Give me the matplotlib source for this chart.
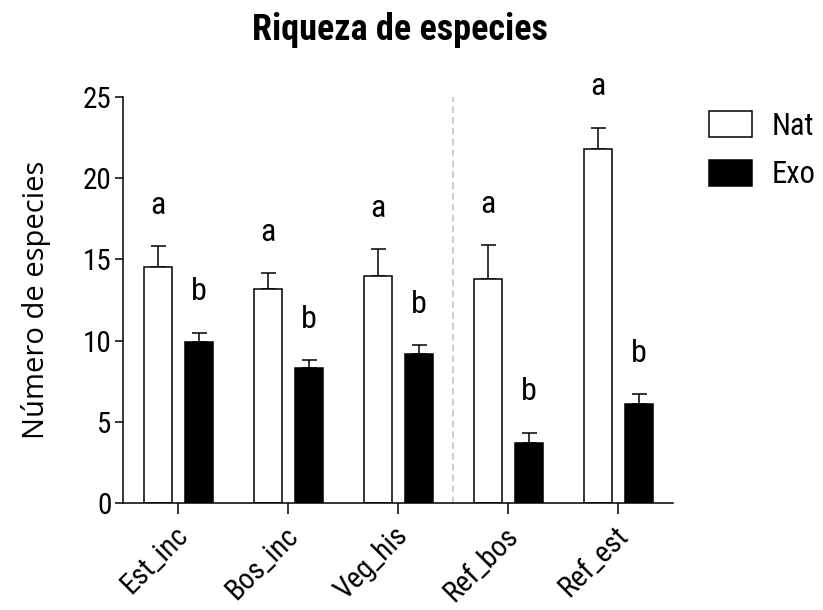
import matplotlib
matplotlib.use('Agg')
import matplotlib.pyplot as plt
import matplotlib.transforms as mtransforms
from matplotlib.patches import Patch
from matplotlib import font_manager
import numpy as np

# datos: riqueza media por sitio y error estandar
sitios = ['Est_inc', 'Bos_inc', 'Veg_his', 'Ref_bos', 'Ref_est']
nat_media = [14.5, 13.2, 14.0, 13.8, 21.8]
nat_ee = [1.3, 0.95, 1.65, 2.1, 1.3]
exo_media = [9.9, 8.3, 9.2, 3.7, 6.1]
exo_ee = [0.6, 0.5, 0.55, 0.65, 0.6]
nat_letras = ['a', 'a', 'a', 'a', 'a']
exo_letras = ['b', 'b', 'b', 'b', 'b']
series = ['Nat', 'Exo']

disponibles = {f.name for f in font_manager.fontManager.ttflist}
def familia(*nombres):
    return [n for n in nombres if n in disponibles] + ['DejaVu Sans']

plt.rcParams['font.family'] = familia('Roboto Condensed', 'Lato', 'Open Sans')

fig = plt.figure(figsize=(8.23, 6.10), dpi=100)
ax = fig.add_axes([0.1498, 0.1749, 0.6683, 0.6666])

x = np.arange(len(sitios))
ancho = 0.253
desp = 0.187
lw = 1.1

ax.bar(x - desp, nat_media, ancho, facecolor='white', edgecolor='black', linewidth=lw, zorder=2)
ax.bar(x + desp, exo_media, ancho, facecolor='black', edgecolor='black', linewidth=lw, zorder=2)

cero = np.zeros(len(sitios))
ax.errorbar(x - desp, nat_media, yerr=[cero, nat_ee], fmt='none', ecolor='black',
            elinewidth=lw, capsize=5.4, capthick=lw, zorder=1)
ax.errorbar(x + desp, exo_media, yerr=[cero, exo_ee], fmt='none', ecolor='black',
            elinewidth=lw, capsize=5.4, capthick=lw, zorder=1)

# letras de significancia sobre cada barra
for i in range(len(sitios)):
    ax.text(x[i] - desp, nat_media[i] + nat_ee[i] + 2.5, nat_letras[i],
            ha='center', va='center', fontsize=23)
    ax.text(x[i] + desp, exo_media[i] + exo_ee[i] + 2.5, exo_letras[i],
            ha='center', va='center', fontsize=23)

# separacion entre sitios y referencias
ax.axvline(2.5, color='#c4c4c4', linestyle=(0, (4, 2.5)), linewidth=1.2, zorder=0)

ax.set_xlim(-0.5, 4.5)
ax.set_ylim(0, 25)
ax.set_yticks([0, 5, 10, 15, 20, 25])
ax.set_xticks(x)
ax.set_xticklabels(sitios, rotation=45, ha='right', va='center', rotation_mode='anchor', fontsize=21)
ax.tick_params(axis='y', length=5.8, width=lw, labelsize=21, pad=2.5)
ax.tick_params(axis='x', length=8, width=lw, pad=12)

# etiquetas del eje x un poco corridas a la derecha
corrimiento = mtransforms.ScaledTranslation(4 / 72, 0, fig.dpi_scale_trans)
for etiqueta in ax.get_xticklabels():
    etiqueta.set_transform(etiqueta.get_transform() + corrimiento)

for lado in ['top', 'right']:
    ax.spines[lado].set_visible(False)
for lado in ['left', 'bottom']:
    ax.spines[lado].set_linewidth(lw)

ax.set_ylabel('Número de especies', fontsize=21, family=familia('Open Sans'), labelpad=23)
fig.suptitle('Riqueza de especies', fontsize=26, fontweight='bold',
             x=0.486, y=0.98)

manijas = [Patch(facecolor='white', edgecolor='black', linewidth=lw),
           Patch(facecolor='black', edgecolor='black', linewidth=lw)]
fig.legend(manijas, series, loc='upper left', bbox_to_anchor=(0.862, 0.818),
           frameon=False, fontsize=22, handlelength=1.4, handleheight=0.95,
           handletextpad=0.65, labelspacing=0.62, borderpad=0, borderaxespad=0)

fig.savefig('out.png', dpi=100)
